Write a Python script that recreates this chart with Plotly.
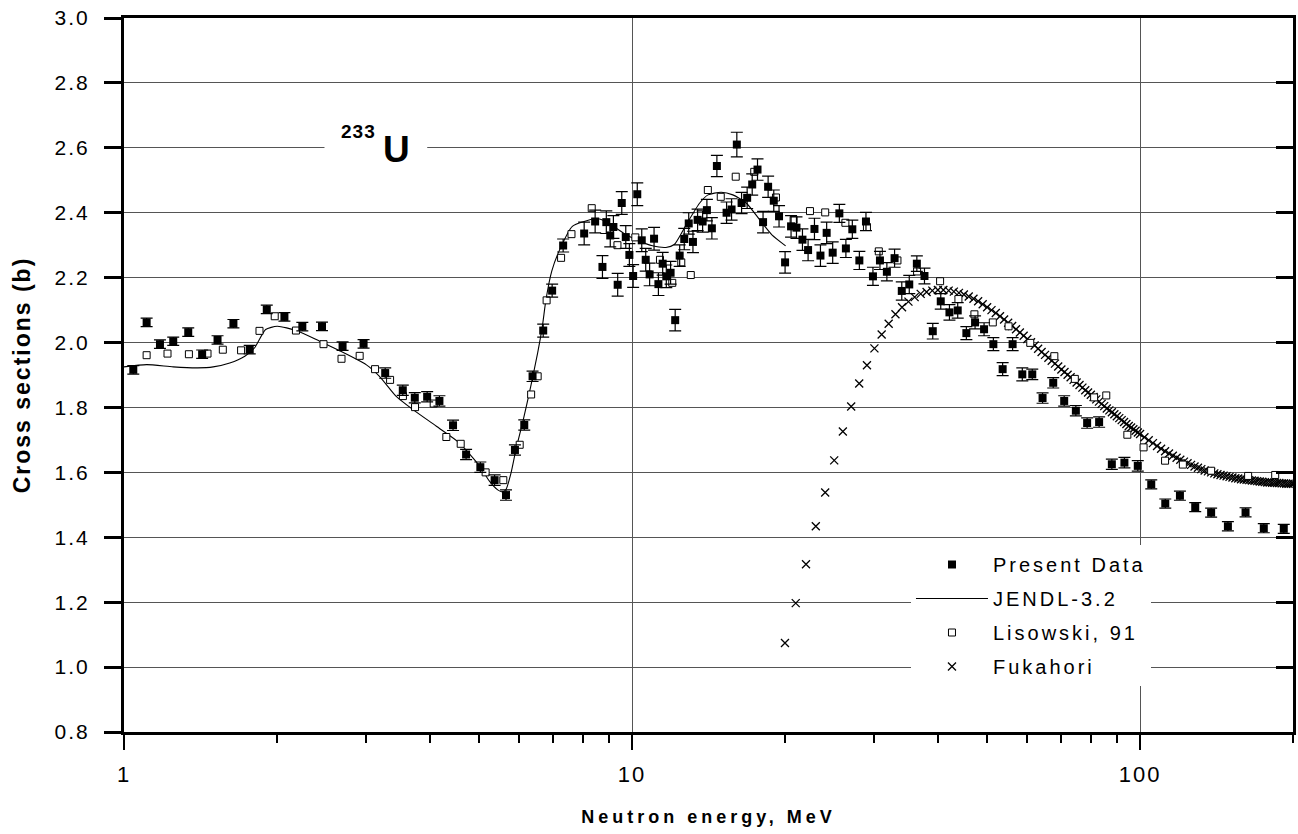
import plotly.graph_objects as go

# ---------------- data ----------------
present_e = [1.043, 1.108, 1.177, 1.250, 1.338, 1.425, 1.528, 1.642, 1.768, 1.910,
             2.069, 2.244, 2.453, 2.693, 2.962, 3.267, 3.538, 3.736, 3.951, 4.177,
             4.443, 4.714, 5.028, 5.364, 5.648, 5.882, 6.136, 6.371, 6.686, 6.962,
             7.318, 8.05, 8.46, 8.745, 8.90, 9.06, 9.19, 9.37, 9.545, 9.72,
             9.88, 10.05, 10.24, 10.45, 10.64, 10.83, 11.05, 11.27, 11.49, 11.68,
             11.91, 12.16, 12.41, 12.67, 12.93, 13.18, 13.46, 13.77, 14.04, 14.36,
             14.69, 15.35, 15.70, 16.08, 16.43, 16.85, 17.24, 17.66, 18.11, 18.53,
             19.01, 19.47, 20.01, 20.56, 21.07, 21.65, 22.21, 22.86, 23.49, 24.16,
             24.83, 25.59, 26.36, 27.14, 28.02, 28.87, 29.80, 30.76, 31.74, 32.87,
             33.96, 35.13, 36.36, 37.64, 39.08, 40.52, 42.15, 43.76, 45.51, 47.34,
             49.31, 51.43, 53.64, 56.12, 58.64, 61.35, 64.28, 67.46, 70.90, 74.75,
             78.67, 83.06, 87.99, 93.15, 98.97, 105.2, 112.1, 119.8, 128.4, 138.0,
             148.9, 161.3, 175.2, 191.8]
present_xs = [1.916, 2.062, 1.995, 2.004, 2.032, 1.964, 2.008, 2.058, 1.978, 2.102,
              2.079, 2.049, 2.050, 1.989, 1.996, 1.906, 1.853, 1.830, 1.833, 1.820,
              1.745, 1.655, 1.616, 1.576, 1.530, 1.669, 1.746, 1.896, 2.037, 2.160,
              2.299, 2.336, 2.373, 2.233, 2.371, 2.330, 2.356, 2.178, 2.430, 2.325,
              2.270, 2.205, 2.457, 2.315, 2.255, 2.210, 2.320, 2.180, 2.243, 2.204,
              2.215, 2.069, 2.268, 2.319, 2.367, 2.310, 2.378, 2.373, 2.408, 2.352,
              2.544, 2.400, 2.410, 2.610, 2.430, 2.446, 2.487, 2.533, 2.371, 2.480,
              2.437, 2.389, 2.247, 2.358, 2.354, 2.317, 2.285, 2.350, 2.268, 2.338,
              2.277, 2.398, 2.290, 2.349, 2.253, 2.373, 2.204, 2.253, 2.218, 2.260,
              2.159, 2.179, 2.243, 2.205, 2.035, 2.127, 2.093, 2.099, 2.029, 2.062,
              2.041, 1.995, 1.918, 1.995, 1.902, 1.902, 1.829, 1.876, 1.820, 1.790,
              1.752, 1.755, 1.625, 1.630, 1.620, 1.563, 1.504, 1.528, 1.493, 1.476,
              1.434, 1.477, 1.428, 1.426]
present_err = [0.013, 0.013, 0.013, 0.013, 0.013, 0.013, 0.013, 0.013, 0.013, 0.013,
               0.013, 0.013, 0.013, 0.013, 0.013, 0.016, 0.016, 0.016, 0.016, 0.016,
               0.016, 0.016, 0.016, 0.016, 0.016, 0.016, 0.016, 0.016, 0.020, 0.020,
               0.020, 0.035, 0.035, 0.035, 0.035, 0.035, 0.035, 0.035, 0.035, 0.035,
               0.035, 0.035, 0.035, 0.035, 0.035, 0.035, 0.035, 0.035, 0.035, 0.035,
               0.035, 0.033, 0.033, 0.033, 0.033, 0.033, 0.033, 0.033, 0.033, 0.033,
               0.033, 0.033, 0.033, 0.038, 0.033, 0.033, 0.033, 0.033, 0.033, 0.033,
               0.033, 0.033, 0.033, 0.033, 0.033, 0.033, 0.033, 0.033, 0.033, 0.033,
               0.033, 0.028, 0.028, 0.028, 0.028, 0.028, 0.028, 0.028, 0.028, 0.028,
               0.028, 0.028, 0.024, 0.024, 0.024, 0.024, 0.024, 0.024, 0.020, 0.020,
               0.020, 0.020, 0.020, 0.020, 0.020, 0.016, 0.016, 0.016, 0.016, 0.016,
               0.016, 0.016, 0.016, 0.016, 0.016, 0.014, 0.014, 0.014, 0.014, 0.014,
               0.014, 0.014, 0.014, 0.014]

jendl_e = [1.0, 1.108, 1.25, 1.396, 1.498, 1.615, 1.729, 1.808, 1.90, 2.003,
           2.184, 2.427, 2.655, 2.996, 3.183, 3.43, 3.70, 4.12, 4.57, 5.01,
           5.24, 5.44, 5.56, 5.65, 5.78, 5.91, 6.09, 6.32, 6.52, 6.66,
           6.77, 6.95, 7.18, 7.63, 8.05, 8.49, 8.89, 9.30, 9.74, 10.35,
           10.97, 11.66, 12.11, 12.78, 13.59, 14.11, 14.98, 15.79, 16.78, 17.84,
           18.85, 20.06]
jendl_xs = [1.925, 1.932, 1.925, 1.922, 1.925, 1.937, 1.958, 1.984, 2.040, 2.050,
            2.037, 2.004, 1.975, 1.932, 1.896, 1.835, 1.794, 1.742, 1.691, 1.620,
            1.573, 1.546, 1.540, 1.548, 1.599, 1.671, 1.753, 1.866, 1.968, 2.050,
            2.132, 2.220, 2.281, 2.358, 2.373, 2.382, 2.373, 2.353, 2.332, 2.312,
            2.298, 2.293, 2.302, 2.363, 2.430, 2.455, 2.463, 2.455, 2.430, 2.378,
            2.332, 2.298]

lis_e = [1.108, 1.218, 1.342, 1.46, 1.565, 1.70, 1.848, 1.98, 2.18, 2.47,
         2.68, 2.91, 3.12, 3.34, 3.54, 3.74, 4.07, 4.31, 4.6, 5.15,
         5.58, 6.01, 6.33, 6.52, 6.79, 7.25, 7.6, 8.33, 9.36, 10.15,
         11.35, 12.0, 12.5, 13.05, 14.1, 14.95, 16.0, 17.4, 19.2, 20.8,
         22.4, 24.0, 26.3, 29.0, 30.6, 33.3, 36.4, 40.4, 43.9, 47.2,
         51.3, 55.1, 60.8, 67.8, 74.4, 81.2, 85.8, 94.4, 101.6, 112.0,
         121.4, 138.0, 163.2, 184.5]
lis_xs = [1.961, 1.966, 1.964, 1.966, 1.978, 1.976, 2.036, 2.081, 2.037, 1.995,
          1.950, 1.959, 1.918, 1.885, 1.835, 1.801, 1.812, 1.709, 1.688, 1.600,
          1.576, 1.685, 1.840, 1.896, 2.130, 2.261, 2.334, 2.414, 2.300, 2.324,
          2.255, 2.184, 2.247, 2.208, 2.470, 2.449, 2.511, 2.526, 2.447, 2.378,
          2.405, 2.401, 2.369, 2.356, 2.281, 2.253, 2.219, 2.189, 2.134, 2.087,
          2.062, 2.050, 1.999, 1.958, 1.888, 1.831, 1.837, 1.716, 1.677, 1.636,
          1.624, 1.605, 1.589, 1.592]

# Fukahori evaluation: 1 MeV grid up to 100 MeV, 2 MeV grid above
fuk_e = list(range(20, 101)) + list(range(102, 201, 2))
fuk_xs = [1.074, 1.197, 1.317, 1.434, 1.538, 1.637, 1.726, 1.803, 1.874, 1.930,
          1.982, 2.025, 2.058, 2.087, 2.109, 2.126, 2.140, 2.150, 2.156, 2.160,
          2.162, 2.162, 2.160, 2.157, 2.153, 2.148, 2.142, 2.135, 2.127, 2.118,
          2.109, 2.100, 2.091, 2.081, 2.071, 2.061, 2.051, 2.041, 2.031, 2.021,
          2.011, 2.001, 1.991, 1.981, 1.971, 1.962, 1.953, 1.944, 1.935, 1.926,
          1.917, 1.909, 1.901, 1.893, 1.885, 1.877, 1.869, 1.861, 1.853, 1.846,
          1.839, 1.832, 1.825, 1.818, 1.811, 1.804, 1.797, 1.791, 1.785, 1.779,
          1.773, 1.767, 1.761, 1.755, 1.749, 1.743, 1.738, 1.733, 1.728, 1.723,
          1.718,
          1.708, 1.699, 1.690, 1.681, 1.673, 1.665, 1.658, 1.651, 1.645, 1.639,
          1.633, 1.628, 1.623, 1.618, 1.614, 1.610, 1.606, 1.603, 1.600, 1.597,
          1.594, 1.592, 1.590, 1.588, 1.586, 1.584, 1.582, 1.581, 1.579, 1.578,
          1.577, 1.576, 1.575, 1.574, 1.573, 1.572, 1.571, 1.570, 1.569, 1.569,
          1.568, 1.568, 1.567, 1.567, 1.566, 1.566, 1.565, 1.565, 1.565, 1.565]

x_major = [1, 10, 100]
x_major_labels = ["1", "10", "100"]
x_minor = [2, 3, 4, 5, 6, 7, 8, 9, 20, 30, 40, 50, 60, 70, 80, 90, 200]
y_ticks = [0.8, 1.0, 1.2, 1.4, 1.6, 1.8, 2.0, 2.2, 2.4, 2.6, 2.8, 3.0]
y_labels = ["0.8", "1.0", "1.2", "1.4", "1.6", "1.8", "2.0", "2.2", "2.4", "2.6", "2.8", "3.0"]

FONT = "Liberation Sans, Arial, Helvetica, sans-serif"


def sp(text, px):
    return f"<span style='letter-spacing:{px}px'>{text}</span>"


fig = go.Figure()

fig.add_trace(go.Scatter(
    x=fuk_e, y=fuk_xs, mode="markers", name=sp("Fukahori", 3), legendrank=4,
    legendgroup="d",
    marker=dict(symbol="x-thin", size=8, color="black", line=dict(width=1.3, color="black")),
    hoverinfo="skip"))
fig.add_trace(go.Scatter(
    x=jendl_e, y=jendl_xs, mode="lines", name=sp("JENDL-3.2", 3), legendrank=2,
    legendgroup="b",
    line=dict(color="black", width=1.1, shape="spline", smoothing=0.6),
    hoverinfo="skip"))
fig.add_trace(go.Scatter(
    x=lis_e, y=lis_xs, mode="markers", name=sp("Lisowski, 91", 3), legendrank=3,
    legendgroup="c",
    marker=dict(symbol="square", size=7, color="white", line=dict(width=1, color="black")),
    hoverinfo="skip"))
fig.add_trace(go.Scatter(
    x=present_e, y=present_xs, mode="markers", name=sp("Present Data", 3), legendrank=1,
    legendgroup="a",
    marker=dict(symbol="square", size=8, color="black", line=dict(width=0)),
    error_y=dict(type="data", array=present_err, visible=True, color="black",
                 thickness=1.2, width=6),
    hoverinfo="skip"))
# invisible helper trace so that the right-hand tick axis is drawn
fig.add_trace(go.Scatter(x=[1], y=[1], yaxis="y2", mode="markers",
                         marker=dict(opacity=0), showlegend=False, hoverinfo="skip"))

fig.update_layout(
    width=1298, height=834,
    margin=dict(l=124, r=2, t=18, b=102),
    paper_bgcolor="white", plot_bgcolor="white",
    font=dict(family=FONT, color="black"),
    showlegend=True,
    legend=dict(
        x=(913 - 124) / 1172, xanchor="left",
        y=(732 - 545) / 714, yanchor="top",
        bgcolor="white", borderwidth=0,
        font=dict(family=FONT, size=20, color="black"),
        tracegroupgap=5, itemwidth=72,
    ),
    xaxis=dict(
        type="log", range=[0, 2.30103],
        tickmode="array", tickvals=x_major,
        ticktext=[sp(t, 2) for t in x_major_labels],
        ticks="outside", ticklen=15, tickwidth=2, tickcolor="black",
        tickfont=dict(family=FONT, size=22, color="black"),
        ticklabelstandoff=6,
        showline=True, linewidth=3, linecolor="black", mirror=True,
        showgrid=True, gridcolor="#555555", gridwidth=1,
        minor=dict(tickmode="array", tickvals=x_minor, ticks="outside", ticklen=8,
                   tickwidth=2, tickcolor="black", showgrid=False),
        zeroline=False,
        title=dict(text="<b>" + sp("Neutron energy, MeV", 4) + "</b>",
                   font=dict(family=FONT, size=18, color="black"), standoff=24),
    ),
    yaxis=dict(
        range=[0.8, 3.0],
        tickmode="array", tickvals=y_ticks, ticktext=[sp(t, 2) for t in y_labels],
        ticks="outside", ticklen=17, tickwidth=2.5, tickcolor="black",
        tickfont=dict(family=FONT, size=21, color="black"),
        ticklabelstandoff=10,
        showline=True, linewidth=3, linecolor="black", mirror=True,
        showgrid=True, gridcolor="#555555", gridwidth=1,
        zeroline=False,
        title=dict(text="<b>" + sp("Cross sections (b)", 2) + "</b>",
                   font=dict(family=FONT, size=23, color="black"), standoff=18),
    ),
    yaxis2=dict(
        range=[0.8, 3.0], overlaying="y", side="right", anchor="x",
        tickmode="array", tickvals=y_ticks, showticklabels=False,
        ticks="inside", ticklen=17, tickwidth=2.5, tickcolor="black",
        showline=True, linewidth=3, linecolor="black",
        showgrid=False, zeroline=False,
    ),
)

# white box behind the isotope label (interrupts the 2.6 grid line)
fig.add_shape(type="rect", xref="paper", yref="paper",
              x0=(325 - 124) / 1172, x1=(428 - 124) / 1172,
              y0=(732 - 166) / 714, y1=(732 - 126) / 714,
              fillcolor="white", line=dict(width=0), layer="above")
fig.add_annotation(xref="paper", yref="paper", x=(359 - 124) / 1172, y=(732 - 131) / 714,
                   xanchor="center", yanchor="middle",
                   text="<b>" + sp("233", 1) + "</b>", showarrow=False,
                   font=dict(family=FONT, size=19, color="black"))
fig.add_annotation(xref="paper", yref="paper", x=(397 - 124) / 1172, y=(732 - 149) / 714,
                   xanchor="center", yanchor="middle",
                   text="<b>U</b>", showarrow=False,
                   font=dict(family=FONT, size=37, color="black"))

fig.write_html("out.html",
               config={"displayModeBar": False},
               post_script="document.body.style.margin='0';"
                           "document.documentElement.style.overflow='hidden';")
